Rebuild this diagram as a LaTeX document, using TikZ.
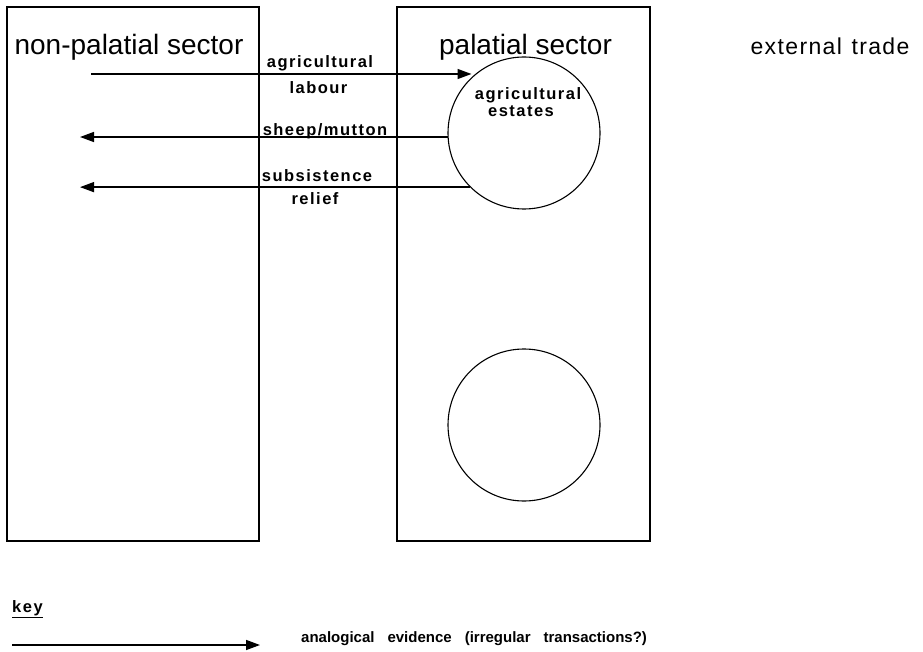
\documentclass[tikz,border=0pt]{standalone}
\usepackage{fontspec}
\setmainfont{Liberation Sans}
\newfontfamily\labelfont[LetterSpace=9]{Liberation Sans}
\newfontfamily\tradefont[LetterSpace=6]{Liberation Sans}
\usetikzlibrary{arrows.meta}
\tikzset{
  sectorbox/.style={draw, line width=1.1pt, minimum height=534pt, inner sep=0pt},
  title/.style={font=\fontsize{28}{30}\selectfont, inner sep=0pt, anchor=base},
  flowlabel/.style={font=\labelfont\bfseries\fontsize{16.5}{18}\selectfont, inner sep=0pt, anchor=base},
  estate/.style={draw, circle, line width=1.1pt, minimum size=152pt, inner sep=0pt},
  flow/.style={line width=1.4pt, -{Triangle[length=14pt,width=10pt]}}
}
\begin{document}
\begin{tikzpicture}[x=1pt,y=-1pt]
  \useasboundingbox (0,0) rectangle (923,652);
  % the two sector boxes
  \node[sectorbox, minimum width=252pt] (np) at (133,274) {};
  \node[sectorbox, minimum width=253pt] (pal) at (523.5,274) {};
  % sector titles
  \node[title] (npt) at (129,54.3) {non-palatial sector};
  \node[title] (palt) at (525.5,55) {palatial sector};
  \node[title, font=\tradefont\fontsize{23}{25}\selectfont] (ext) at (830,54.3) {\spaceskip=9.5pt external trade};
  % estates inside the palatial sector
  \node[estate] (c1) at (524,133) {};
  \node[estate] (c2) at (524,425) {};
  \node[flowlabel] (est1) at (528,100) {agricultural};
  \node[flowlabel] (est2) at (521,117) {estates};
  % flows between the sectors
  \coordinate (labstart) at (91,74);
  \coordinate (labend) at (471.5,74);
  \coordinate (sheepend) at (80,137);
  \coordinate (reliefend) at (80,187);
  \draw[flow] (labstart) -- (labend);
  \draw[flow] (c1.183) -- (sheepend |- c1.183);
  \draw[flow] (c1.225) -- (reliefend |- c1.225);
  \node[flowlabel] (l1) at (320,68) {agricultural};
  \node[flowlabel] (l2) at (318.5,93.3) {labour};
  \node[flowlabel] (l3) at (325,135.5) {sheep/mutton};
  \node[flowlabel] (l4) at (317,181.7) {subsistence};
  \node[flowlabel] (l5) at (315,205) {relief};
  % key
  \node[flowlabel, anchor=base west] (key) at (12,612.7) {\underline{key}};
  \coordinate (keystart) at (12,645);
  \coordinate (keyend) at (260,645);
  \draw[flow] (keystart) -- (keyend);
  \node[flowlabel, anchor=base west, font=\bfseries\fontsize{15}{17}\selectfont] (keytext) at (301,642.5) {\spaceskip=13pt analogical evidence (irregular transactions?)};
\end{tikzpicture}
\end{document}
